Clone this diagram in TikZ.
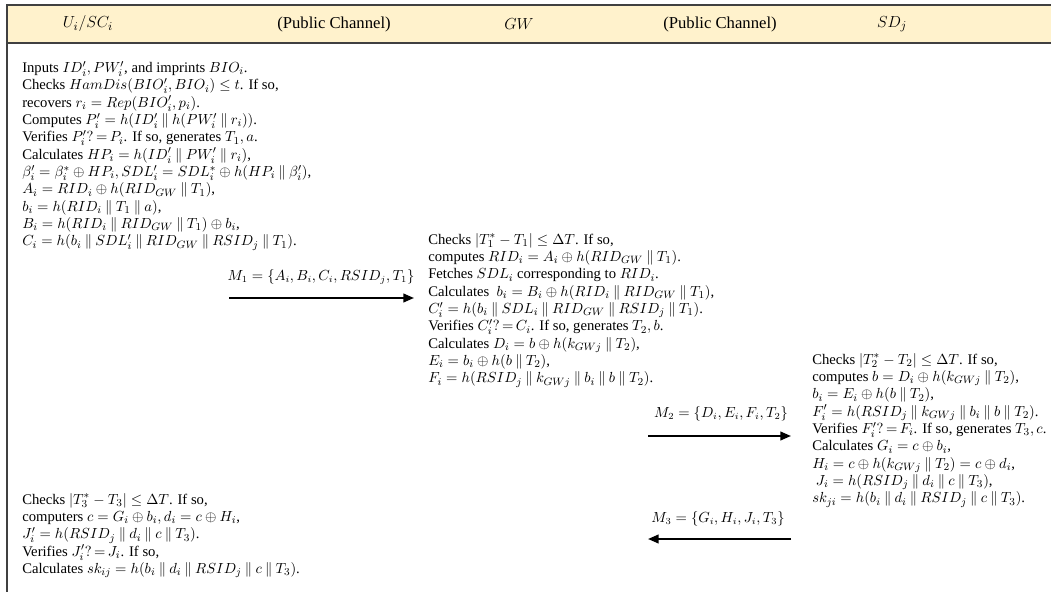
\documentclass[tikz,border=0pt]{standalone}
\usepackage{fontspec}
\setmainfont{Liberation Serif}
\usetikzlibrary{arrows.meta}
\newcommand{\dbar}{\mathbin{\|}}
\definecolor{headfill}{HTML}{FFF2CC}
\definecolor{rulegray}{HTML}{404040}
\tikzset{
  txtblock/.style={anchor=north west, align=left, inner sep=0pt, font=\fontsize{11}{13}\selectfont},
  headlabel/.style={anchor=center, inner sep=0pt, font=\fontsize{12.5}{14}\selectfont},
  msglabel/.style={anchor=center, inner sep=0pt, font=\fontsize{10.5}{13}\selectfont},
  msgarrow/.style={line width=1.5pt, -{Triangle[length=8pt,width=6.5pt]}},
  rule/.style={draw=rulegray, line width=1.1pt}
}
\begin{document}
\begin{tikzpicture}[x=0.75pt,y=-0.75pt]
\useasboundingbox (0,0) rectangle (1051,592);
% header band
\fill[headfill] (7,5) rectangle (1051,43);
\draw[rule] (1051,5) -- (7,5) -- (7,592);
\draw[rule] (7,43) -- (1051,43);
% header labels
\node[headlabel] (hU) at (88,24) {$U_i/SC_i$};
\node[headlabel] (hP1) at (334,24) {(Public Channel)};
\node[headlabel] (hGW) at (519,24) {$GW$};
\node[headlabel] (hP2) at (720,24) {(Public Channel)};
\node[headlabel] (hSD) at (892,24) {$SD_j$};
% user block
\node[txtblock] (ublock) at (22,61) {%
Inputs $ID_i', PW_i'$, and imprints $BIO_i$.\\
Checks $HamDis(BIO_i', BIO_i) \le t$. If so,\\
recovers $r_i = Rep(BIO_i', p_i)$.\\
Computes $P_i' = h(ID_i' \dbar h(PW_i' \dbar r_i))$.\\
Verifies $P_i'?\,{=}\,P_i$. If so, generates $T_1, a$.\\
Calculates $HP_i = h(ID_i' \dbar PW_i' \dbar r_i)$,\\
$\beta_i' = \beta_i^* \oplus HP_i, SDL_i' = SDL_i^* \oplus h(HP_i \dbar \beta_i')$,\\
$A_i = RID_i \oplus h(RID_{GW} \dbar T_1)$,\\
$b_i = h(RID_i \dbar T_1 \dbar a)$,\\
$B_i = h(RID_i \dbar RID_{GW} \dbar T_1) \oplus b_i$,\\
$C_i = h(b_i \dbar SDL_i' \dbar RID_{GW} \dbar RSID_j \dbar T_1)$.};
% gateway block
\node[txtblock] (gblock) at (428,233) {%
Checks $|T_1^* - T_1| \le \Delta T$. If so,\\
computes $RID_i = A_i \oplus h(RID_{GW} \dbar T_1)$.\\
Fetches $SDL_i$ corresponding to $RID_i$.\\
Calculates \ $b_i = B_i \oplus h(RID_i \dbar RID_{GW} \dbar T_1)$,\\
$C_i' = h(b_i \dbar SDL_i \dbar RID_{GW} \dbar RSID_j \dbar T_1)$.\\
Verifies $C_i'?\,{=}\,C_i$. If so, generates $T_2, b$.\\
Calculates $D_i = b \oplus h(k_{GWj} \dbar T_2)$,\\
$E_i = b_i \oplus h(b \dbar T_2)$,\\
$F_i = h(RSID_j \dbar k_{GWj} \dbar b_i \dbar b \dbar T_2)$.};
% device block
\node[txtblock] (sblock) at (812,353) {%
Checks $|T_2^* - T_2| \le \Delta T$. If so,\\
computes $b = D_i \oplus h(k_{GWj} \dbar T_2)$,\\
$b_i = E_i \oplus h(b \dbar T_2)$,\\
$F_i' = h(RSID_j \dbar k_{GWj} \dbar b_i \dbar b \dbar T_2)$.\\
Verifies $F_i'?\,{=}\,F_i$. If so, generates $T_3, c$.\\
Calculates $G_i = c \oplus b_i$,\\
$H_i = c \oplus h(k_{GWj} \dbar T_2) = c \oplus d_i$,\\
\ $J_i = h(RSID_j \dbar d_i \dbar c \dbar T_3)$,\\
$sk_{ji} = h(b_i \dbar d_i \dbar RSID_j \dbar c \dbar T_3)$.};
% user final block
\node[txtblock] (ublock2) at (22,493) {%
Checks $|T_3^* - T_3| \le \Delta T$. If so,\\
computers $c = G_i \oplus b_i, d_i = c \oplus H_i$,\\
$J_i' = h(RSID_j \dbar d_i \dbar c \dbar T_3)$.\\
Verifies $J_i'?\,{=}\,J_i$. If so,\\
Calculates $sk_{ij} = h(b_i \dbar d_i \dbar RSID_j \dbar c \dbar T_3)$.};
% messages
\coordinate (m1s) at (229,298);
\coordinate (m1e) at (414,298);
\draw[msgarrow] (m1s) -- (m1e);
\node[msglabel] (m1) at (321,277) {$M_1 = \{A_i, B_i, C_i, RSID_j, T_1\}$};
\coordinate (m2s) at (648,436);
\coordinate (m2e) at (791,436);
\draw[msgarrow] (m2s) -- (m2e);
\node[msglabel] (m2) at (721,414) {$M_2 = \{D_i, E_i, F_i, T_2\}$};
\coordinate (m3s) at (791,539);
\coordinate (m3e) at (648,539);
\draw[msgarrow] (m3s) -- (m3e);
\node[msglabel] (m3) at (718,519) {$M_3 = \{G_i, H_i, J_i, T_3\}$};
\end{tikzpicture}
\end{document}
